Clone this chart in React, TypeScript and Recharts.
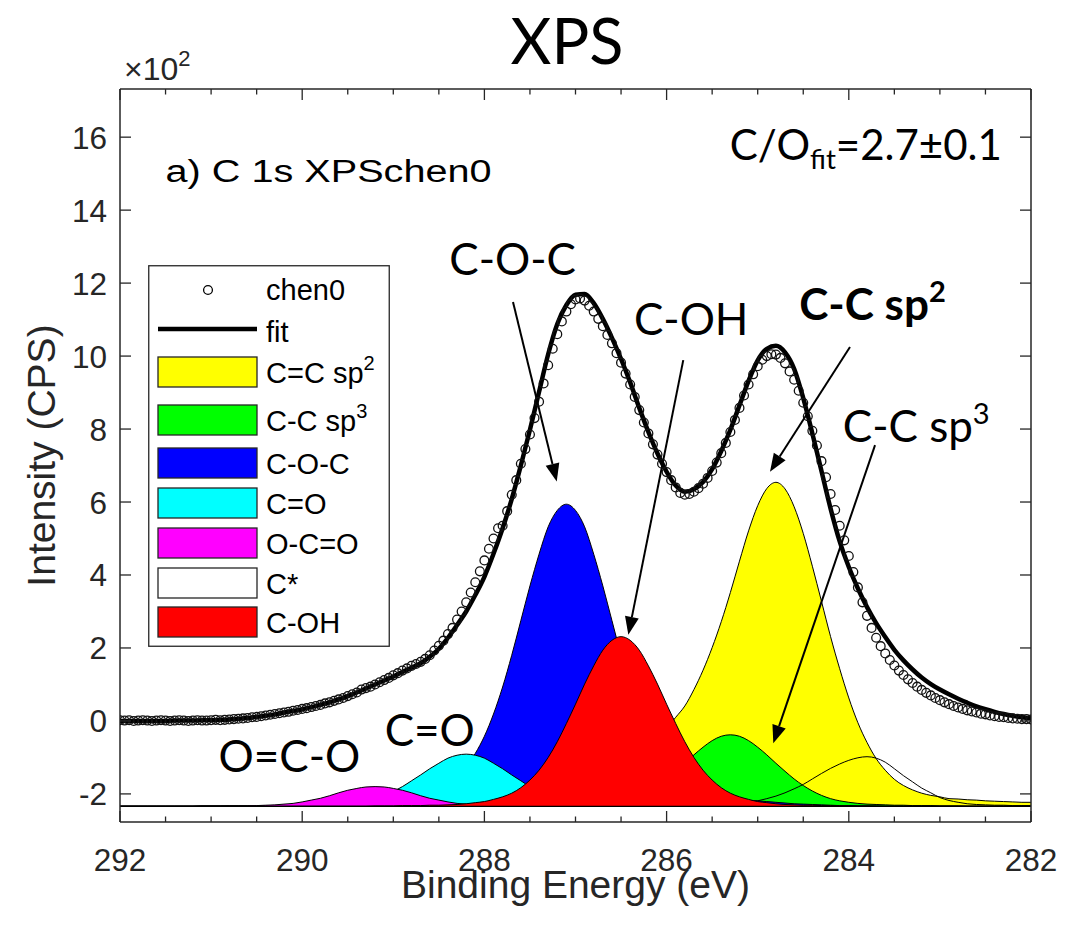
import React from "react";
import {
  ComposedChart,
  Area,
  Line,
  Scatter,
  XAxis,
  YAxis,
  Label,
  Legend,
  ReferenceLine,
  ReferenceDot,
} from "recharts";

// Binding energy grid of the fit and of the components (eV)
const energy = [
  292.0, 291.9, 291.8, 291.7, 291.6, 291.5, 291.4, 291.3, 291.2, 291.1,
  291.0, 290.9, 290.8, 290.7, 290.6, 290.5, 290.4, 290.3, 290.2, 290.1,
  290.0, 289.9, 289.8, 289.7, 289.6, 289.5, 289.4, 289.3, 289.2, 289.1,
  289.0, 288.9, 288.8, 288.7, 288.6, 288.5, 288.4, 288.3, 288.2, 288.1,
  288.0, 287.9, 287.8, 287.7, 287.6, 287.5, 287.4, 287.3, 287.2, 287.1,
  287.0, 286.9, 286.8, 286.7, 286.6, 286.5, 286.4, 286.3, 286.2, 286.1,
  286.0, 285.9, 285.8, 285.7, 285.6, 285.5, 285.4, 285.3, 285.2, 285.1,
  285.0, 284.9, 284.8, 284.7, 284.6, 284.5, 284.4, 284.3, 284.2, 284.1,
  284.0, 283.9, 283.8, 283.7, 283.6, 283.5, 283.4, 283.3, 283.2, 283.1,
  283.0, 282.9, 282.8, 282.7, 282.6, 282.5, 282.4, 282.3, 282.2, 282.1,
  282.0,
];

// total fit (x10^2 CPS)
const fit = [
  0.0, 0.0, 0.0, 0.0, 0.0, 0.0, 0.01, 0.01, 0.01, 0.02,
  0.02, 0.03, 0.04, 0.06, 0.08, 0.11, 0.14, 0.18, 0.23, 0.27,
  0.32, 0.38, 0.44, 0.51, 0.59, 0.68, 0.78, 0.89, 1.0, 1.11,
  1.22, 1.34, 1.46, 1.58, 1.76, 1.98, 2.28, 2.63, 3.0, 3.45,
  3.95, 4.58, 5.28, 6.08, 7.0, 7.98, 9.02, 10.05, 10.88, 11.4,
  11.68, 11.7, 11.45, 11.02, 10.5, 9.92, 9.28, 8.58, 7.92, 7.33,
  6.83, 6.45, 6.28, 6.35, 6.55, 6.9, 7.4, 7.98, 8.65, 9.32,
  9.88, 10.2, 10.28, 10.1, 9.65, 8.85, 7.88, 6.85, 5.82, 4.92,
  4.22, 3.63, 3.12, 2.68, 2.3, 1.95, 1.66, 1.41, 1.19, 1.01,
  0.86, 0.73, 0.61, 0.5, 0.4, 0.32, 0.25, 0.19, 0.14, 0.1,
  0.07,
];

// fitted components, drawn from the offset baseline
const ccSp2 = [
  -2.34, -2.34, -2.34, -2.34, -2.34, -2.34, -2.34, -2.34, -2.34, -2.34,
  -2.34, -2.34, -2.33, -2.33, -2.33, -2.33, -2.33, -2.33, -2.33, -2.33,
  -2.33, -2.33, -2.32, -2.32, -2.32, -2.32, -2.32, -2.32, -2.3, -2.3,
  -2.3, -2.3, -2.3, -2.29, -2.28, -2.28, -2.27, -2.27, -2.26, -2.25,
  -2.24, -2.23, -2.22, -2.21, -2.19, -2.17, -2.14, -2.11, -2.07, -2.02,
  -1.97, -1.9, -1.81, -1.69, -1.56, -1.41, -1.23, -1.03, -0.79, -0.52,
  -0.21, 0.1, 0.41, 0.86, 1.39, 2.01, 2.72, 3.52, 4.38, 5.21,
  5.9, 6.37, 6.54, 6.36, 5.87, 5.14, 4.24, 3.28, 2.31, 1.43,
  0.63, -0.05, -0.59, -1.03, -1.35, -1.6, -1.77, -1.89, -1.98, -2.04,
  -2.08, -2.13, -2.14, -2.16, -2.17, -2.19, -2.2, -2.21, -2.22, -2.23,
  -2.23,
];

const ccSp3 = [
  -2.34, -2.34, -2.34, -2.34, -2.34, -2.34, -2.34, -2.34, -2.34, -2.34,
  -2.34, -2.34, -2.34, -2.34, -2.34, -2.34, -2.34, -2.34, -2.34, -2.34,
  -2.34, -2.34, -2.34, -2.34, -2.34, -2.34, -2.34, -2.34, -2.34, -2.34,
  -2.34, -2.34, -2.34, -2.34, -2.34, -2.34, -2.34, -2.34, -2.34, -2.34,
  -2.34, -2.34, -2.33, -2.33, -2.33, -2.32, -2.32, -2.32, -2.31, -2.31,
  -2.3, -2.29, -2.28, -2.26, -2.23, -2.19, -2.13, -2.04, -1.92, -1.77,
  -1.59, -1.38, -1.16, -0.93, -0.72, -0.54, -0.42, -0.38, -0.42, -0.54,
  -0.72, -0.93, -1.16, -1.38, -1.59, -1.77, -1.92, -2.04, -2.13, -2.19,
  -2.23, -2.26, -2.28, -2.29, -2.3, -2.31, -2.31, -2.32, -2.32, -2.32,
  -2.33, -2.33, -2.33, -2.34, -2.34, -2.34, -2.34, -2.34, -2.34, -2.34,
  -2.34,
];

const coc = [
  -2.34, -2.34, -2.34, -2.34, -2.34, -2.34, -2.34, -2.34, -2.34, -2.34,
  -2.34, -2.34, -2.34, -2.34, -2.34, -2.33, -2.33, -2.33, -2.32, -2.32,
  -2.31, -2.3, -2.29, -2.28, -2.27, -2.25, -2.23, -2.21, -2.19, -2.18,
  -2.16, -2.13, -2.1, -2.05, -1.98, -1.88, -1.74, -1.54, -1.26, -0.89,
  -0.42, 0.19, 0.93, 1.8, 2.75, 3.7, 4.57, 5.32, 5.77, 5.94,
  5.77, 5.32, 4.57, 3.7, 2.75, 1.8, 0.93, 0.19, -0.42, -0.89,
  -1.26, -1.54, -1.74, -1.88, -1.98, -2.05, -2.1, -2.13, -2.16, -2.18,
  -2.19, -2.21, -2.23, -2.25, -2.27, -2.28, -2.29, -2.3, -2.31, -2.32,
  -2.32, -2.33, -2.33, -2.33, -2.34, -2.34, -2.34, -2.34, -2.34, -2.34,
  -2.34, -2.34, -2.34, -2.34, -2.34, -2.34, -2.34, -2.34, -2.34, -2.34,
  -2.34,
];

const co = [
  -2.34, -2.34, -2.34, -2.34, -2.34, -2.34, -2.34, -2.34, -2.34, -2.33,
  -2.33, -2.33, -2.33, -2.33, -2.33, -2.33, -2.33, -2.33, -2.32, -2.32,
  -2.32, -2.31, -2.31, -2.3, -2.28, -2.26, -2.23, -2.18, -2.12, -2.04,
  -1.93, -1.8, -1.64, -1.48, -1.31, -1.16, -1.02, -0.94, -0.91, -0.94,
  -1.02, -1.16, -1.31, -1.48, -1.64, -1.8, -1.93, -2.04, -2.12, -2.18,
  -2.23, -2.26, -2.28, -2.3, -2.31, -2.31, -2.32, -2.32, -2.32, -2.33,
  -2.33, -2.33, -2.33, -2.33, -2.33, -2.33, -2.33, -2.33, -2.34, -2.34,
  -2.34, -2.34, -2.34, -2.34, -2.34, -2.34, -2.34, -2.34, -2.34, -2.34,
  -2.34, -2.34, -2.34, -2.34, -2.34, -2.34, -2.34, -2.34, -2.34, -2.34,
  -2.34, -2.34, -2.34, -2.34, -2.34, -2.34, -2.34, -2.34, -2.34, -2.34,
  -2.34,
];

const oco = [
  -2.34, -2.34, -2.34, -2.34, -2.34, -2.34, -2.34, -2.34, -2.34, -2.33,
  -2.33, -2.33, -2.33, -2.33, -2.33, -2.32, -2.31, -2.3, -2.28, -2.26,
  -2.22, -2.17, -2.12, -2.05, -1.97, -1.9, -1.85, -1.81, -1.8, -1.81,
  -1.85, -1.9, -1.97, -2.05, -2.12, -2.17, -2.22, -2.26, -2.28, -2.3,
  -2.31, -2.32, -2.33, -2.33, -2.33, -2.33, -2.33, -2.33, -2.33, -2.34,
  -2.34, -2.34, -2.34, -2.34, -2.34, -2.34, -2.34, -2.34, -2.34, -2.34,
  -2.34, -2.34, -2.34, -2.34, -2.34, -2.34, -2.34, -2.34, -2.34, -2.34,
  -2.34, -2.34, -2.34, -2.34, -2.34, -2.34, -2.34, -2.34, -2.34, -2.34,
  -2.34, -2.34, -2.34, -2.34, -2.34, -2.34, -2.34, -2.34, -2.34, -2.34,
  -2.34, -2.34, -2.34, -2.34, -2.34, -2.34, -2.34, -2.34, -2.34, -2.34,
  -2.34,
];

const cStar = [
  -2.34, -2.34, -2.34, -2.34, -2.34, -2.34, -2.34, -2.34, -2.34, -2.34,
  -2.34, -2.34, -2.34, -2.34, -2.34, -2.34, -2.34, -2.34, -2.34, -2.34,
  -2.34, -2.34, -2.34, -2.34, -2.34, -2.34, -2.34, -2.34, -2.34, -2.34,
  -2.34, -2.34, -2.34, -2.34, -2.34, -2.34, -2.34, -2.34, -2.34, -2.34,
  -2.34, -2.34, -2.34, -2.34, -2.34, -2.34, -2.34, -2.34, -2.34, -2.34,
  -2.34, -2.34, -2.34, -2.33, -2.33, -2.33, -2.33, -2.33, -2.33, -2.33,
  -2.33, -2.33, -2.32, -2.32, -2.31, -2.3, -2.29, -2.28, -2.26, -2.23,
  -2.19, -2.13, -2.06, -1.97, -1.86, -1.74, -1.59, -1.44, -1.3, -1.18,
  -1.08, -1.01, -0.98, -1.02, -1.13, -1.31, -1.5, -1.67, -1.84, -1.97,
  -2.1, -2.18, -2.23, -2.27, -2.29, -2.3, -2.31, -2.31, -2.32, -2.32,
  -2.32,
];

const coh = [
  -2.34, -2.34, -2.34, -2.34, -2.34, -2.34, -2.34, -2.34, -2.34, -2.34,
  -2.34, -2.34, -2.34, -2.34, -2.34, -2.34, -2.34, -2.34, -2.34, -2.34,
  -2.34, -2.34, -2.34, -2.34, -2.34, -2.34, -2.34, -2.34, -2.33, -2.33,
  -2.33, -2.32, -2.32, -2.32, -2.31, -2.31, -2.3, -2.29, -2.27, -2.24,
  -2.21, -2.15, -2.08, -1.98, -1.83, -1.62, -1.35, -1.0, -0.57, -0.07,
  0.46, 1.01, 1.51, 1.94, 2.21, 2.31, 2.21, 1.94, 1.51, 1.01,
  0.46, -0.07, -0.57, -1.0, -1.35, -1.62, -1.83, -1.98, -2.08, -2.15,
  -2.21, -2.24, -2.27, -2.29, -2.3, -2.31, -2.31, -2.32, -2.32, -2.32,
  -2.33, -2.33, -2.33, -2.34, -2.34, -2.34, -2.34, -2.34, -2.34, -2.34,
  -2.34, -2.34, -2.34, -2.34, -2.34, -2.34, -2.34, -2.34, -2.34, -2.34,
  -2.34,
];

// measured spectrum chen0
const dataEnergy = [
  292.0, 291.95, 291.9, 291.85, 291.8, 291.75, 291.7, 291.65, 291.6, 291.55,
  291.5, 291.45, 291.4, 291.35, 291.3, 291.25, 291.2, 291.15, 291.1, 291.05,
  291.0, 290.95, 290.9, 290.85, 290.8, 290.75, 290.7, 290.65, 290.6, 290.55,
  290.5, 290.45, 290.4, 290.35, 290.3, 290.25, 290.2, 290.15, 290.1, 290.05,
  290.0, 289.95, 289.9, 289.85, 289.8, 289.75, 289.7, 289.65, 289.6, 289.55,
  289.5, 289.45, 289.4, 289.35, 289.3, 289.25, 289.2, 289.15, 289.1, 289.05,
  289.0, 288.95, 288.9, 288.85, 288.8, 288.75, 288.7, 288.65, 288.6, 288.55,
  288.5, 288.45, 288.4, 288.35, 288.3, 288.25, 288.2, 288.15, 288.1, 288.05,
  288.0, 287.95, 287.9, 287.85, 287.8, 287.75, 287.7, 287.65, 287.6, 287.55,
  287.5, 287.45, 287.4, 287.35, 287.3, 287.25, 287.2, 287.15, 287.1, 287.05,
  287.0, 286.95, 286.9, 286.85, 286.8, 286.75, 286.7, 286.65, 286.6, 286.55,
  286.5, 286.45, 286.4, 286.35, 286.3, 286.25, 286.2, 286.15, 286.1, 286.05,
  286.0, 285.95, 285.9, 285.85, 285.8, 285.75, 285.7, 285.65, 285.6, 285.55,
  285.5, 285.45, 285.4, 285.35, 285.3, 285.25, 285.2, 285.15, 285.1, 285.05,
  285.0, 284.95, 284.9, 284.85, 284.8, 284.75, 284.7, 284.65, 284.6, 284.55,
  284.5, 284.45, 284.4, 284.35, 284.3, 284.25, 284.2, 284.15, 284.1, 284.05,
  284.0, 283.95, 283.9, 283.85, 283.8, 283.75, 283.7, 283.65, 283.6, 283.55,
  283.5, 283.45, 283.4, 283.35, 283.3, 283.25, 283.2, 283.15, 283.1, 283.05,
  283.0, 282.95, 282.9, 282.85, 282.8, 282.75, 282.7, 282.65, 282.6, 282.55,
  282.5, 282.45, 282.4, 282.35, 282.3, 282.25, 282.2, 282.15, 282.1, 282.05,
  282.0,
];

const dataCps = [
  0.02, 0.01, 0.02, 0.0, 0.01, 0.02, 0.01, 0.0, 0.01, 0.02,
  0.01, 0.0, 0.01, 0.02, 0.01, 0.0, 0.01, 0.02, 0.01, 0.01,
  0.02, 0.03, 0.02, 0.03, 0.04, 0.05, 0.06, 0.07, 0.08, 0.1,
  0.11, 0.13, 0.15, 0.17, 0.19, 0.21, 0.23, 0.25, 0.28, 0.3,
  0.33, 0.35, 0.38, 0.41, 0.44, 0.48, 0.51, 0.55, 0.59, 0.63,
  0.68, 0.73, 0.78, 0.86, 0.9, 0.94, 1.0, 1.06, 1.12, 1.18,
  1.25, 1.31, 1.38, 1.44, 1.51, 1.56, 1.62, 1.7, 1.8, 1.93,
  2.06, 2.2, 2.38, 2.55, 2.78, 3.0, 3.25, 3.52, 3.8, 4.1,
  4.4, 4.72, 5.0, 5.28, 5.35, 5.75, 6.2, 6.6, 7.05, 7.45,
  7.85, 8.3, 8.75, 9.25, 9.75, 10.2, 10.6, 10.95, 11.22, 11.42,
  11.55, 11.58, 11.52, 11.38, 11.22, 11.02, 10.82, 10.58, 10.35, 10.08,
  9.82, 9.52, 9.22, 8.88, 8.52, 8.18, 7.88, 7.58, 7.3, 7.05,
  6.82, 6.6, 6.4, 6.25, 6.2, 6.22, 6.28, 6.38, 6.5, 6.66,
  6.85, 7.08, 7.34, 7.62, 7.92, 8.25, 8.58, 8.92, 9.22, 9.5,
  9.72, 9.9, 10.0, 10.05, 10.04, 9.95, 9.8, 9.58, 9.35, 9.05,
  8.72, 8.35, 7.95, 7.55, 7.12, 6.68, 6.22, 5.78, 5.35, 4.95,
  4.52, 4.08, 3.66, 3.25, 2.88, 2.55, 2.28, 2.05, 1.85, 1.67,
  1.52, 1.38, 1.26, 1.14, 1.04, 0.94, 0.85, 0.77, 0.7, 0.63,
  0.57, 0.51, 0.46, 0.41, 0.37, 0.33, 0.29, 0.26, 0.23, 0.2,
  0.18, 0.15, 0.13, 0.11, 0.1, 0.08, 0.07, 0.06, 0.05, 0.05,
  0.04,
];

const xTicks = [
  292, 291.5, 291, 290.5, 290, 289.5, 289, 288.5, 288, 287.5, 287,
  286.5, 286, 285.5, 285, 284.5, 284, 283.5, 283, 282.5, 282,
];
const xLabels = [292, 290, 288, 286, 284, 282];
const yTicks = [-2, 0, 2, 4, 6, 8, 10, 12, 14, 16];
const baseline = -2.34;

const components = [
  { key: "ccSp2", name: "C=C sp2", values: ccSp2, fill: "#ffff00" },
  { key: "ccSp3", name: "C-C sp3", values: ccSp3, fill: "#00ff00" },
  { key: "coc", name: "C-O-C", values: coc, fill: "#0000ff" },
  { key: "co", name: "C=O", values: co, fill: "#00ffff" },
  { key: "oco", name: "O-C=O", values: oco, fill: "#ff00ff" },
  { key: "cStar", name: "C*", values: cStar, fill: "none" },
  { key: "coh", name: "C-OH", values: coh, fill: "#ff0000" },
];

const table = energy.map((E, i) => {
  const row: any = { E, fit: fit[i] };
  components.forEach((c) => (row[c.key] = c.values[i]));
  return row;
});
const spectrum = dataEnergy.map((E, i) => ({ E, cps: dataCps[i] }));

const AXIS = "#262626";
const SANS = "'Liberation Sans', Arial, Helvetica, sans-serif";
const NOTE = "Lato, 'Open Sans', sans-serif";

const BottomTick = (props: any) => {
  const { x, y, payload } = props;
  const major = xLabels.includes(payload.value);
  return (
    <g>
      <line x1={x} x2={x} y1={y} y2={y - (major ? 11 : 5.5)} stroke={AXIS} strokeWidth={1.3} />
      {major && (
        <text x={x} y={y + 49} textAnchor="middle" fontFamily={SANS} fontSize={31.5} fill={AXIS}>
          {payload.value}
        </text>
      )}
    </g>
  );
};

const TopTick = (props: any) => {
  const { x, y, payload } = props;
  const major = xLabels.includes(payload.value);
  return <line x1={x} x2={x} y1={y} y2={y + (major ? 11 : 5.5)} stroke={AXIS} strokeWidth={1.3} />;
};

const LeftTick = (props: any) => {
  const { x, y, payload } = props;
  return (
    <g>
      <line x1={x} x2={x + 11} y1={y} y2={y} stroke={AXIS} strokeWidth={1.3} />
      <text x={x - 13} y={y + 11.5} textAnchor="end" fontFamily={SANS} fontSize={31.5} fill={AXIS}>
        {payload.value}
      </text>
    </g>
  );
};

const RightTick = (props: any) => {
  const { x, y } = props;
  return <line x1={x} x2={x - 11} y1={y} y2={y} stroke={AXIS} strokeWidth={1.3} />;
};

const Arrow = (props: any) => {
  const { x1, y1, x2, y2 } = props;
  const len = Math.hypot(x2 - x1, y2 - y1);
  const ux = (x2 - x1) / len;
  const uy = (y2 - y1) / len;
  const bx = x2 - ux * 18;
  const by = y2 - uy * 18;
  const pts = `${x2},${y2} ${bx - uy * 7},${by + ux * 7} ${bx + uy * 7},${by - ux * 7}`;
  return (
    <g>
      <line x1={x1} y1={y1} x2={bx} y2={by} stroke="#000" strokeWidth={2} />
      <polygon points={pts} fill="#000" />
    </g>
  );
};

const arrows = [
  [287.686, 11.48, 287.206, 6.56],
  [285.817, 9.89, 286.42, 2.36],
  [283.987, 10.25, 284.865, 6.83],
  [283.712, 7.56, 284.829, -0.61],
];

const sup = (t: string, size: number) => (
  <tspan dy={-size * 0.4} fontSize={size * 0.66}>{t}</tspan>
);

const notes: {
  x: number;
  y: number;
  anchor: string;
  size: number;
  el: (s: number) => React.ReactNode;
  bold?: boolean;
  font?: string;
  length?: number;
}[] = [
  { x: 287.69, y: 12.22, anchor: "middle", size: 44, el: () => "C-O-C" },
  { x: 285.73, y: 10.58, anchor: "middle", size: 44, el: () => "C-OH" },
  { x: 283.74, y: 10.99, anchor: "middle", size: 44, bold: true, el: (s) => <>C-C sp{sup("2", s)}</> },
  { x: 283.26, y: 7.65, anchor: "middle", size: 44, el: (s) => <>C-C sp{sup("3", s)}</> },
  { x: 288.6, y: -0.7, anchor: "middle", size: 44, el: () => "C=O" },
  { x: 290.14, y: -1.39, anchor: "middle", size: 44, el: () => "O=C-O" },
  {
    x: 282.32, y: 15.37, anchor: "end", size: 42,
    el: (s) => (
      <>
        C/O<tspan dy={s * 0.22} fontSize={s * 0.66}>fit</tspan>
        <tspan dy={-s * 0.22}>=2.7±0.1</tspan>
      </>
    ),
  },
  { x: 291.5, y: 14.77, anchor: "start", size: 31, font: SANS, length: 326, el: () => "a) C 1s XPSchen0" },
];

const legendRows = [
  { name: "C=C sp", sup: "2", fill: "#ffff00", top: 92 },
  { name: "C-C sp", sup: "3", fill: "#00ff00", top: 140 },
  { name: "C-O-C", fill: "#0000ff", top: 183 },
  { name: "C=O", fill: "#00ffff", top: 223 },
  { name: "O-C=O", fill: "#ff00ff", top: 263 },
  { name: "C*", fill: "#ffffff", top: 303 },
  { name: "C-OH", fill: "#ff0000", top: 342 },
];

const LegendBox = () => (
  <svg width={242} height={382} style={{ display: "block" }}>
    <rect x={0.75} y={0.75} width={240.5} height={380.5} fill="#fff" stroke={AXIS} strokeWidth={1.3} />
    <circle cx={60} cy={25} r={4.4} fill="none" stroke="#000" strokeWidth={1.3} />
    <text x={118} y={35} fontFamily={SANS} fontSize={29}>chen0</text>
    <line x1={10} x2={109} y1={64} y2={64} stroke="#000" strokeWidth={4.5} />
    <text x={118} y={77} fontFamily={SANS} fontSize={29}>fit</text>
    {legendRows.map((r) => (
      <g key={r.name + r.top}>
        <rect x={10} y={r.top} width={99} height={30} fill={r.fill} stroke={AXIS} strokeWidth={1.3} />
        <text x={118} y={r.top + 26} fontFamily={SANS} fontSize={29}>
          {r.name}
          {r.sup && <tspan dy={-13} fontSize={20}>{r.sup}</tspan>}
        </text>
      </g>
    ))}
  </svg>
);

export default function App() {
  return (
    <div style={{ position: "relative", width: 1090, height: 936, margin: -8, background: "#fff" }}>
      <ComposedChart width={1090} height={936} data={table} margin={{ top: 0, right: 0, bottom: 0, left: 0 }}>
        <XAxis
          dataKey="E"
          type="number"
          domain={[282, 292]}
          reversed
          allowDataOverflow
          ticks={xTicks}
          interval={0}
          height={114}
          tickSize={0}
          tickMargin={0}
          tickLine={false}
          tick={<BottomTick />}
          axisLine={{ stroke: AXIS, strokeWidth: 1.5 }}
        >
          <Label
            content={(p: any) => (
              <text x={p.viewBox.x + p.viewBox.width / 2} y={p.viewBox.y + 76} textAnchor="middle" fontFamily={SANS} fontSize={39} fill={AXIS}>
                Binding Energy (eV)
              </text>
            )}
          />
        </XAxis>
        <XAxis
          xAxisId="top"
          orientation="top"
          dataKey="E"
          type="number"
          domain={[282, 292]}
          reversed
          allowDataOverflow
          ticks={xTicks}
          interval={0}
          height={89}
          tickSize={0}
          tickMargin={0}
          tickLine={false}
          tick={<TopTick />}
          axisLine={{ stroke: AXIS, strokeWidth: 1.5 }}
        >
          <Label
            content={(p: any) => (
              <g>
                <text x={567} y={64} textAnchor="middle" fontFamily={NOTE} fontSize={63} fill="#000">
                  XPS
                </text>
                <text x={p.viewBox.x + 4} y={80} fontFamily={SANS} fontSize={32} fill={AXIS}>
                  ×10<tspan dy={-14} fontSize={22}>2</tspan>
                </text>
              </g>
            )}
          />
        </XAxis>
        <YAxis
          type="number"
          domain={[-2.77, 17.32]}
          allowDataOverflow
          ticks={yTicks}
          interval={0}
          width={120}
          tickSize={0}
          tickMargin={0}
          tickLine={false}
          tick={<LeftTick />}
          axisLine={{ stroke: AXIS, strokeWidth: 1.5 }}
        >
          <Label
            content={(p: any) => {
              const cy = p.viewBox.y + p.viewBox.height / 2;
              return (
                <text x={55} y={cy} transform={`rotate(-90, 55, ${cy})`} textAnchor="middle" fontFamily={SANS} fontSize={39} fill={AXIS}>
                  Intensity (CPS)
                </text>
              );
            }}
          />
        </YAxis>
        <YAxis
          yAxisId="right"
          orientation="right"
          type="number"
          domain={[-2.77, 17.32]}
          allowDataOverflow
          ticks={yTicks}
          interval={0}
          width={59}
          tickSize={0}
          tickMargin={0}
          tickLine={false}
          tick={<RightTick />}
          axisLine={{ stroke: AXIS, strokeWidth: 1.5 }}
        />

        {components.map((c) => (
          <Area
            key={c.key}
            name={c.name}
            dataKey={c.key}
            type="monotone"
            baseValue={baseline}
            stroke="#000"
            strokeWidth={1}
            fill={c.fill}
            fillOpacity={1}
            dot={false}
            activeDot={false}
            isAnimationActive={false}
          />
        ))}
        <ReferenceLine y={baseline} stroke="#000" strokeWidth={1.2} />

        <Scatter
          name="chen0"
          data={spectrum}
          dataKey="cps"
          isAnimationActive={false}
          shape={(p: any) => <circle cx={p.cx} cy={p.cy} r={4.4} fill="none" stroke="#111" strokeWidth={1.3} />}
        />
        <Line name="fit" dataKey="fit" type="monotone" stroke="#000" strokeWidth={4.5} dot={false} activeDot={false} isAnimationActive={false} />

        {arrows.map((a, i) => (
          <ReferenceLine
            key={"arrow" + i}
            segment={[
              { x: a[0], y: a[1] },
              { x: a[2], y: a[3] },
            ]}
            shape={<Arrow />}
          />
        ))}
        {notes.map((n, i) => (
          <ReferenceDot
            key={"note" + i}
            x={n.x}
            y={n.y}
            r={0}
            shape={(p: any) => (
              <text
                x={p.cx}
                y={p.cy}
                textAnchor={n.anchor as any}
                fontFamily={n.font || NOTE}
                fontWeight={n.bold ? 700 : 400}
                fontSize={n.size}
                textLength={n.length}
                lengthAdjust={n.length ? "spacingAndGlyphs" : undefined}
                fill="#000"
              >
                {n.el(n.size)}
              </text>
            )}
          />
        ))}

        <Legend
          layout="horizontal"
          verticalAlign="middle"
          align="center"
          wrapperStyle={{ position: "absolute", left: 148, top: 265, width: 242, height: 382 }}
          content={() => <LegendBox />}
        />
      </ComposedChart>
    </div>
  );
}
